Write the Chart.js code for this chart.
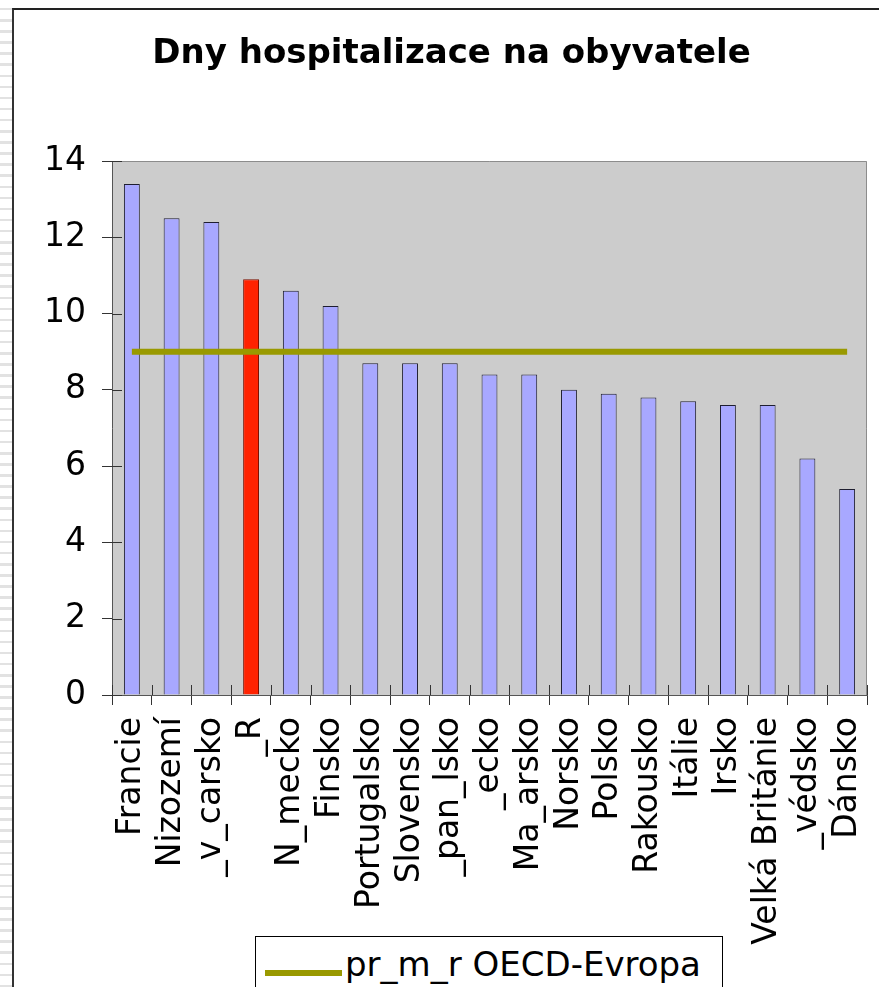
<!DOCTYPE html>
<html><head><meta charset="utf-8">
<script src="https://cdn.jsdelivr.net/npm/chart.js@4"></script>
<style>
html,body{margin:0;padding:0;background:#fff;width:879px;height:987px;overflow:hidden;position:relative}
#strip{position:absolute;left:0;top:0;width:12px;height:987px;background:repeating-linear-gradient(to bottom,#e2e2e2 0px,#e2e2e2 2.5px,#fff 2.5px,#fff 11.1px);background-position:0 8px}
#frame{position:absolute;left:12px;top:8px;width:880px;height:1000px;border-top:2px solid #222;border-left:2px solid #333}
#c{position:absolute;left:0;top:0}
#legend{position:absolute;left:255px;top:936px;width:466px;height:80px;border:1px solid #000;background:#fff;font-family:'DejaVu Sans';font-size:34px;color:#000}
#legend .sw{position:absolute;left:9px;top:33px;width:77px;height:6px}
#legend .tx{position:absolute;left:89px;top:10px;line-height:34px;white-space:nowrap}
</style></head>
<body>
<div id="strip"></div><div id="frame"></div>
<canvas id="c" width="879" height="987"></canvas>
<div id="legend"></div>
<script>
const chartTitle = 'Dny hospitalizace na obyvatele';
const categories = ['Francie','Nizozemí','_v_carsko','_R','N_mecko','Finsko','Portugalsko','Slovensko','_pan_lsko','_ecko','Ma_arsko','Norsko','Polsko','Rakousko','Itálie','Irsko','Velká Británie','_védsko','Dánsko'];
const hospitalDays = [13.4,12.5,12.4,10.9,10.6,10.2,8.7,8.7,8.7,8.4,8.4,8.0,7.9,7.8,7.7,7.6,7.6,6.2,5.4];
const oecdAverage = [9,9,9,9,9,9,9,9,9,9,9,9,9,9,9,9,9,9,9];
const oecdLabel = 'pr_m_r OECD-Evropa';
const yTickValues = [0,2,4,6,8,10,12,14];
const highlighted = '_R';

const FONT = 'DejaVu Sans';

const plotDeco = {
  id: 'plotDeco',
  beforeDraw(chart) {
    const {ctx, chartArea: a} = chart;
    ctx.save();
    ctx.fillStyle = '#cccccc';
    ctx.fillRect(a.left, a.top, a.right - a.left, a.bottom - a.top);
    ctx.strokeStyle = '#8c8c8c';
    ctx.lineWidth = 1;
    ctx.beginPath();
    ctx.moveTo(a.left, Math.round(a.top) + 0.5);
    ctx.lineTo(Math.round(a.right) - 0.5, Math.round(a.top) + 0.5);
    ctx.lineTo(Math.round(a.right) - 0.5, a.bottom);
    ctx.stroke();
    ctx.restore();
  },
  beforeDatasetsDraw(chart) {
    const {ctx, chartArea: a, scales: {x, y}} = chart;
    ctx.save();
    ctx.strokeStyle = '#333';
    ctx.lineWidth = 1;
    ctx.beginPath();
    const half = (x.getPixelForValue(1) - x.getPixelForValue(0)) / 2;
    for (let i = 0; i <= categories.length; i++) {
      const px = Math.round(x.getPixelForValue(i) - half) + 0.5;
      ctx.moveTo(px, a.bottom - 10);
      ctx.lineTo(px, a.bottom);
    }
    yTickValues.forEach(v => {
      const py = Math.round(y.getPixelForValue(v)) + 0.5;
      ctx.moveTo(a.left, py);
      ctx.lineTo(a.left + 10, py);
    });
    ctx.stroke();
    ctx.restore();
  }
};

const chart = new Chart(document.getElementById('c'), {
  data: {
    labels: categories,
    datasets: [
      {type: 'line', label: oecdLabel, data: oecdAverage, borderColor: '#999900', backgroundColor: '#999900',
       borderWidth: 6, pointRadius: 0, pointHoverRadius: 0, tension: 0, order: 0},
      {type: 'bar', label: 'Dny hospitalizace', data: hospitalDays,
       backgroundColor: c => categories[c.dataIndex] === highlighted ? '#ff2200' : '#a8a8ff',
       borderColor: c => categories[c.dataIndex] === highlighted ? '#7a1000' : '#1e1e30',
       borderWidth: 1, barPercentage: 0.4, categoryPercentage: 1, order: 1}
    ]
  },
  options: {
    responsive: false, animation: false, devicePixelRatio: 1,
    layout: {padding: {left: 36, right: 12, top: 0, bottom: 0}},
    plugins: {
      legend: {display: false},
      tooltip: {enabled: false},
      title: {display: true, text: chartTitle, color: '#000',
        font: {family: FONT, size: 34, weight: 'bold', lineHeight: 1.2},
        padding: {top: 33.5, bottom: 86.7}}
    },
    scales: {
      x: {
        type: 'category', offset: true,
        grid: {offset: true, drawOnChartArea: false, tickLength: 10, color: '#333'},
        border: {color: '#555'},
        ticks: {autoSkip: false, maxRotation: 90, minRotation: 90, padding: 12, color: '#000', font: {family: FONT, size: 33}},
        afterFit: s => { s.height = 292; s.paddingLeft = 0; s.paddingRight = 0; }
      },
      y: {
        type: 'linear', min: 0, max: 14,
        afterBuildTicks: s => { s.ticks = yTickValues.map(v => ({value: v})); },
        grid: {drawOnChartArea: false, tickLength: 10, color: '#333'},
        border: {color: '#555'},
        ticks: {padding: 16, color: '#000', font: {family: FONT, size: 33}},
        afterFit: s => { s.width = 76; }
      }
    }
  },
  plugins: [plotDeco]
});

const leg = document.getElementById('legend');
chart.data.datasets.filter(d => d.type === 'line').forEach(d => {
  const sw = document.createElement('span'); sw.className = 'sw'; sw.style.background = d.borderColor;
  const tx = document.createElement('span'); tx.className = 'tx'; tx.textContent = d.label;
  leg.append(sw, tx);
});
</script>
</body></html>
